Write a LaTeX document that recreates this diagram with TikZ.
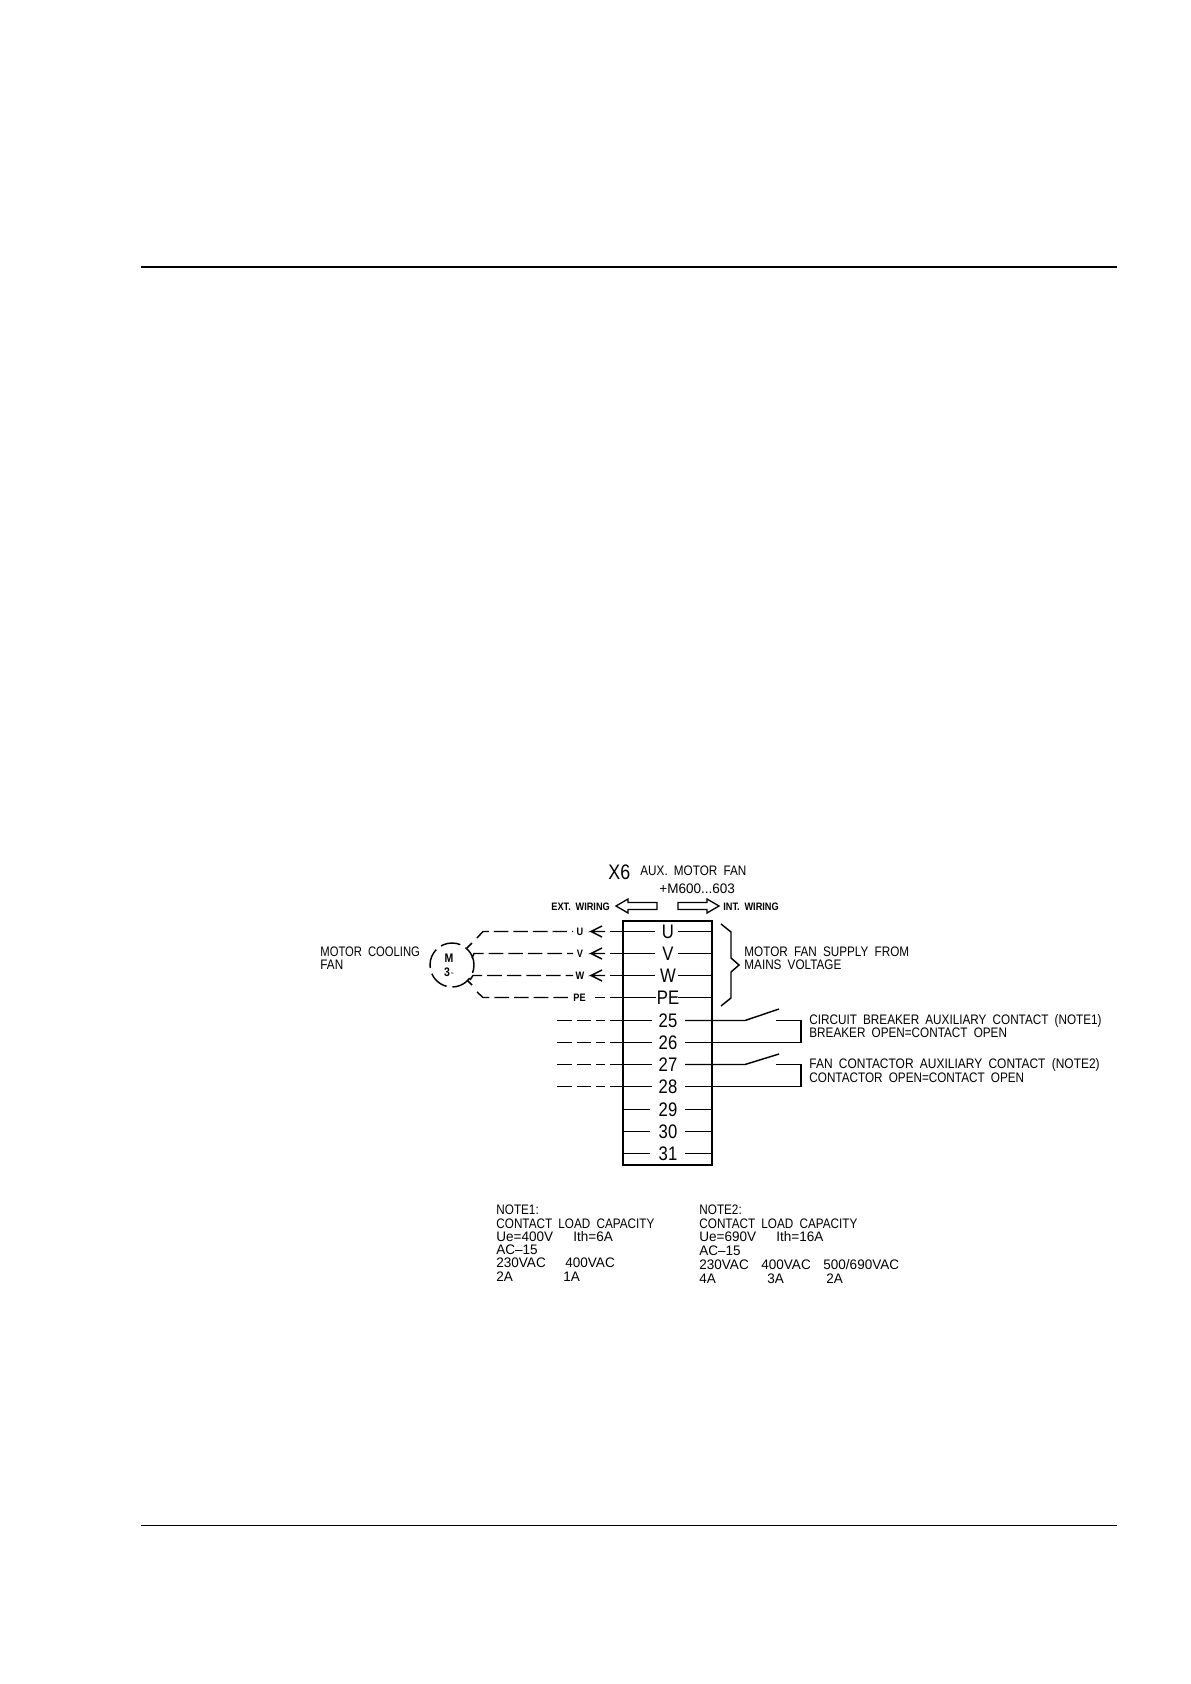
\documentclass[tikz,border=0pt]{standalone}
\usepackage{graphicx}
\usepackage{fontspec}
\setmainfont[FakeStretch=0.85,WordSpace=1.9]{Liberation Sans}
\newfontfamily\numfont[FakeStretch=0.98,WordSpace=1.7,Ligatures=TeX]{Liberation Sans}
\begin{document}
\begin{tikzpicture}[x=0.5pt,y=-0.5pt,
  wire/.style={line width=0.72pt,black},
  ext/.style={wire,dash pattern=on 7.3pt off 2.5pt},
  frame/.style={line width=0.95pt,black},
  cad/.style={inner sep=0pt,anchor=west,font=\fontsize{6.9pt}{7pt}\selectfont,text height=5pt,text depth=0pt},
  cadnum/.style={cad,font=\fontsize{6.9pt}{7pt}\numfont},
  tiny/.style={inner sep=0pt,font=\fontsize{5.4pt}{6pt}\selectfont\bfseries,text height=3.9pt,text depth=0pt},
  term/.style={inner sep=0pt,anchor=center,font=\fontsize{9.8pt}{10pt}\selectfont,text height=7pt,text depth=0pt},
  blockarrow/.style={line width=0.65pt,black,fill=white}]
\useasboundingbox (0,0) rectangle (1190,1684);
\fill[white] (0,0) rectangle (1190,1684);
% page rules
\coordinate (ruleTopL) at (141,267); \coordinate (ruleTopR) at (1117,267);
\coordinate (ruleBotL) at (141,1525.5); \coordinate (ruleBotR) at (1117,1525.5);
\draw[line width=1.05pt] (ruleTopL) -- (ruleTopR);
\draw[line width=0.6pt] (ruleBotL) -- (ruleBotR);
% terminal block
\node[draw,frame,inner sep=0pt,minimum width=89*0.5pt,minimum height=244*0.5pt,anchor=north west,outer sep=0pt] (block) at (623,921) {};
% titles
\node[term,anchor=west,font=\fontsize{10.5pt}{11pt}\selectfont,text height=7.5pt] (x6) at (608,872) {X6};
\node[cad] (aux) at (640,870) {AUX. MOTOR FAN};
\node[cadnum] (mnum) at (659,888) {+M600...603};
\node[tiny,anchor=west] (extw) at (551,907) {EXT. WIRING};
\node[tiny,anchor=west] (intw) at (723,907) {INT. WIRING};
\draw[blockarrow] (616,906) -- (628,899) -- (628,902.5) -- (657,902.5) -- (657,909.5) -- (628,909.5) -- (628,913) -- cycle;
\draw[blockarrow] (719,906) -- (707,899) -- (707,902.5) -- (678,902.5) -- (678,909.5) -- (707,909.5) -- (707,913) -- cycle;
% terminal labels and internal wires
\foreach \nm/\lab/\y/\lx/\rx in {tU/U/931.5/655/678, tV/V/953.5/655/678, tW/W/975.5/655/678, tPE/PE/997.5/656/678,
  t25/25/1020.5/652/685, t26/26/1042.5/652/685, t27/27/1064.5/652/685, t28/28/1086.5/652/685,
  t29/29/1109.5/650/685, t30/30/1131.5/650/685, t31/31/1153.5/650/685}{
  \node[term] (\nm) at (668,\y) {\lab};
  \coordinate (\nm l) at (\lx,\y);
  \coordinate (\nm r) at (\rx,\y);
  \coordinate (\nm e) at (712,\y);
  \coordinate (\nm b) at (623,\y);
}
\foreach \nm in {tU,tV,tW,tPE,t29,t30,t31} \draw[wire] (\nm r) -- (\nm e);
\foreach \nm in {t29,t30,t31} \draw[wire] (\nm b) -- (\nm l);
% wires left of block
\foreach \nm/\y in {tU/931.5,tV/953.5,tW/975.5,tPE/997.5,t25/1020.5,t26/1042.5,t27/1064.5,t28/1086.5}{
  \coordinate (\nm s) at (609.5,\y);
  \draw[wire] (\nm s) -- (\nm l);
}
% external arrows
\foreach \nm/\y in {tU/931.5,tV/953.5,tW/975.5}{
  \coordinate (\nm a) at (591,\y);
  \coordinate (\nm c) at (605,\y);
  \draw[wire] (\nm c) -- (\nm a) -- ++(11,-5.5) (\nm a) -- ++(11,5.5);
}
\node[tiny] (lu) at (580,931.5) {U};
\node[tiny] (lv) at (580,953.5) {V};
\node[tiny] (lw) at (580,975.5) {W};
\node[tiny] (lpe) at (579.5,997.5) {PE};
% motor
\node[circle,draw,wire,dash pattern=on 10pt off 3pt,minimum size=44*0.5pt,inner sep=0pt] (motor) at (452,965) {};
\node[tiny,font=\fontsize{6.2pt}{6pt}\selectfont\bfseries,text height=4.4pt] (mm) at (449,958) {M};
\node[tiny,font=\fontsize{6.2pt}{6pt}\selectfont\bfseries,text height=4.4pt] (m3) at (449,972) {3\raisebox{0.3pt}{\fontsize{3pt}{3pt}\selectfont\,\char"7E}};
\coordinate (mU) at (467,948); \coordinate (mUb) at (483,931.5); \coordinate (lUe) at (573,931.5);
\coordinate (mV) at (472,958); \coordinate (mVb) at (474,953.5); \coordinate (lVe) at (573,953.5);
\coordinate (mW) at (470,980); \coordinate (mWb) at (473,975.5); \coordinate (lWe) at (573,975.5);
\coordinate (mP) at (467,980); \coordinate (mPb) at (483,997.5); \coordinate (lPe) at (570,997.5);
\draw[wire] (mU) -- (472,943);
\draw[ext] (477,938) -- (mUb) -- (lUe);
\draw[ext] (mV) -- (mVb) -- (lVe);
\draw[ext] (mW) -- (mWb) -- (lWe);
\draw[ext] (mP) -- (472,985);
\draw[ext] (477,992) -- (mPb) -- (lPe);
\coordinate (peA) at (595,997.5); \coordinate (peB) at (605,997.5);
\draw[wire] (peA) -- (peB);
% dashed stubs
\foreach \nm/\y in {t25/1020.5,t26/1042.5,t27/1064.5,t28/1086.5}{
  \coordinate (\nm d) at (557,\y);
  \coordinate (\nm f) at (605,\y);
  \draw[ext] (\nm d) -- (\nm f);
}
\node[cad] (mcf1) at (320,951) {\scalebox{0.96}[1]{MOTOR COOLING}};
\node[cad] (mcf2) at (320,964) {FAN};
% brace
\coordinate (brT) at (721,924); \coordinate (brB) at (721,1006); \coordinate (brM) at (739,965);
\draw[wire] (brT) -- (731,932) -- (731,958) -- (brM) -- (731,972) -- (731,998) -- (brB);
% contacts
\coordinate (c25a) at (745,1020.5); \coordinate (c25b) at (779,1009); \coordinate (c25c) at (776,1020.5); \coordinate (c25d) at (801,1020.5); \coordinate (c26d) at (801,1042.5);
\draw[wire] (t25r) -- (c25a) -- (c25b);
\draw[wire] (c25c) -- (c25d) -- (c26d) -- (t26r);
\coordinate (c27a) at (745,1064.5); \coordinate (c27b) at (779,1054); \coordinate (c27c) at (776,1064.5); \coordinate (c27d) at (801,1064.5); \coordinate (c28d) at (801,1086.5);
\draw[wire] (t27r) -- (c27a) -- (c27b);
\draw[wire] (c27c) -- (c27d) -- (c28d) -- (t28r);
% right texts
\node[cad] (sup1) at (744,951) {MOTOR FAN SUPPLY FROM};
\node[cad] (sup2) at (744,964) {MAINS VOLTAGE};
\node[cad] (cb1) at (809,1019) {CIRCUIT BREAKER AUXILIARY CONTACT (NOTE1)};
\node[cad] (cb2) at (809,1032) {BREAKER OPEN=CONTACT OPEN};
\node[cad] (fc1) at (809,1063) {\scalebox{1.02}[1]{FAN CONTACTOR AUXILIARY CONTACT (NOTE2)}};
\node[cad] (fc2) at (809,1077) {CONTACTOR OPEN=CONTACT OPEN};
% notes
\node[cad] (n1a) at (496,1209) {NOTE1:};
\node[cad] (n1b) at (496,1223) {CONTACT LOAD CAPACITY};
\node[cadnum] (n1c) at (496,1236) {Ue=400V};
\node[cadnum] (n1d) at (573,1236) {Ith=6A};
\node[cadnum] (n1e) at (496,1249) {AC--15};
\node[cadnum] (n1f) at (496,1262) {230VAC};
\node[cadnum] (n1g) at (565,1262) {400VAC};
\node[cadnum] (n1h) at (496,1276) {2A};
\node[cadnum] (n1i) at (563,1276) {1A};
\node[cad] (n2a) at (699,1209) {NOTE2:};
\node[cad] (n2b) at (699,1223) {CONTACT LOAD CAPACITY};
\node[cadnum] (n2c) at (699,1236) {Ue=690V};
\node[cadnum] (n2d) at (776,1236) {Ith=16A};
\node[cadnum] (n2e) at (699,1250) {AC--15};
\node[cadnum] (n2f) at (699,1264) {230VAC};
\node[cadnum] (n2g) at (761,1264) {400VAC};
\node[cadnum] (n2h) at (823,1264) {500/690VAC};
\node[cadnum] (n2i) at (699,1278) {4A};
\node[cadnum] (n2j) at (767,1278) {3A};
\node[cadnum] (n2k) at (826,1278) {2A};
\end{tikzpicture}
\end{document}
